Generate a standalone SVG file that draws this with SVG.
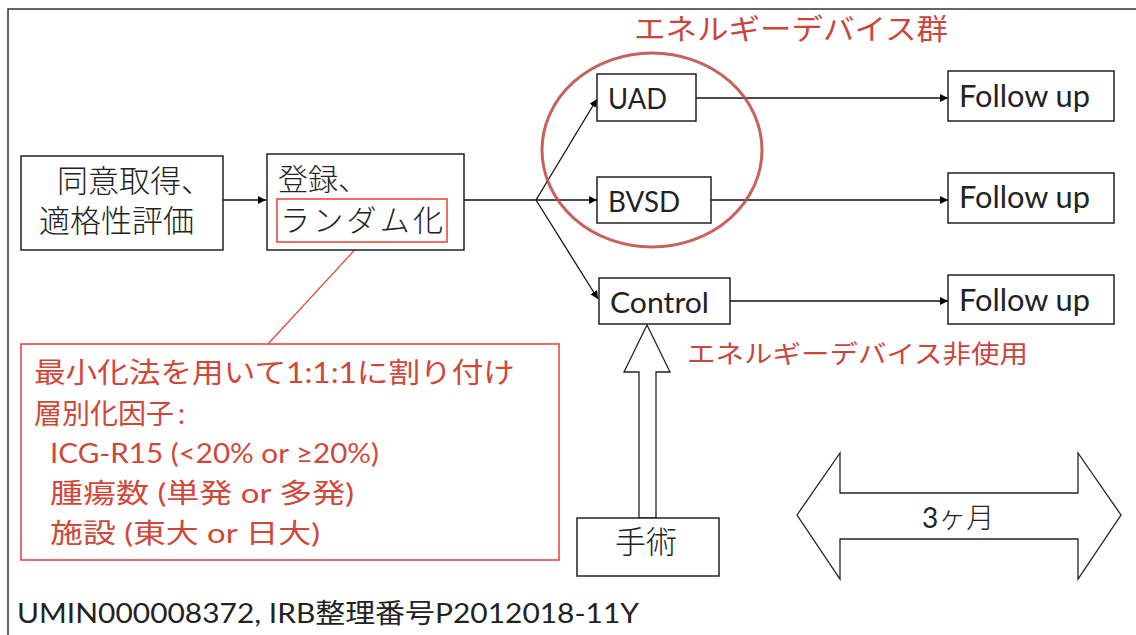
<svg xmlns="http://www.w3.org/2000/svg" width="1136" height="635" viewBox="0 0 1136 635">
<defs>
<marker id="ah" viewBox="0 0 10 10" refX="10" refY="5" markerWidth="8" markerHeight="8" markerUnits="userSpaceOnUse" orient="auto">
<path d="M0,0 L10,5 L0,10 z" fill="#000"/>
</marker>
</defs>
<style>
.box{fill:#fff;stroke:#222;stroke-width:1.5}
.conn{fill:none;stroke:#111;stroke-width:1.3}
.jm{font-family:"Noto Sans CJK JP",sans-serif;font-weight:300;fill:#222}
.lat{font-family:Lato,"Noto Sans CJK JP",sans-serif;fill:#222}
.red{font-family:Lato,"Noto Sans CJK JP",sans-serif;fill:#d0483a}
.redt{font-family:"Noto Sans CJK JP",sans-serif;fill:#c9463d}
</style>
<rect width="1136" height="635" fill="#fff"/>
<rect x="8" y="9" width="1200" height="700" fill="none" stroke="#333" stroke-width="1.5"/>

<g id="connectors">
<line class="conn" x1="223" y1="200" x2="266" y2="200" marker-end="url(#ah)"/>
<polyline class="conn" points="464,200 536,200"/>
<line class="conn" x1="536" y1="200" x2="597" y2="99" marker-end="url(#ah)"/>
<line class="conn" x1="536" y1="200" x2="597" y2="200" marker-end="url(#ah)"/>
<line class="conn" x1="536" y1="200" x2="598" y2="299" marker-end="url(#ah)"/>
<line class="conn" x1="696" y1="98" x2="948" y2="98" marker-end="url(#ah)"/>
<line class="conn" x1="711" y1="200" x2="948" y2="200" marker-end="url(#ah)"/>
<line class="conn" x1="730" y1="301" x2="948" y2="301" marker-end="url(#ah)"/>
<line x1="362" y1="242" x2="268" y2="344" stroke="#e8402f" stroke-width="1.2"/>
</g>

<g id="consent">
<rect class="box" x="21" y="156" width="202" height="94"/>
<text class="jm" x="57" y="192" font-size="31">同意取得、</text>
<text class="jm" x="39" y="232" font-size="31">適格性評価</text>
</g>

<g id="register">
<rect class="box" x="267" y="154" width="197" height="96"/>
<text class="jm" x="278" y="190" font-size="30">登録、</text>
<rect x="277" y="199" width="170" height="43" fill="none" stroke="#e8402f" stroke-width="1.5"/>
<text class="jm" x="280" y="231" font-size="30" textLength="163" lengthAdjust="spacing">ランダム化</text>
</g>

<g id="energy-group">
<text class="redt" x="634" y="40" font-size="29" textLength="314" lengthAdjust="spacingAndGlyphs">エネルギーデバイス群</text>
<ellipse cx="652" cy="150" rx="110" ry="97" fill="none" stroke="#c0504d" stroke-width="3" opacity="0.9"/>
</g>

<g id="uad">
<rect class="box" x="597" y="74" width="99" height="47"/>
<text class="lat" x="608" y="109" font-size="29" textLength="59" lengthAdjust="spacingAndGlyphs">UAD</text>
</g>
<g id="bvsd">
<rect class="box" x="597" y="177" width="114" height="46"/>
<text class="lat" x="608" y="212" font-size="29" textLength="72" lengthAdjust="spacingAndGlyphs">BVSD</text>
</g>
<g id="control">
<rect class="box" x="599" y="278" width="131" height="46"/>
<text class="lat" x="610" y="313" font-size="29" textLength="99" lengthAdjust="spacingAndGlyphs">Control</text>
</g>

<g id="followup1">
<rect class="box" x="948" y="71" width="166" height="50"/>
<text class="lat" x="959" y="107" font-size="30" textLength="131" lengthAdjust="spacingAndGlyphs">Follow up</text>
</g>
<g id="followup2">
<rect class="box" x="948" y="173" width="166" height="50"/>
<text class="lat" x="959" y="208" font-size="30" textLength="131" lengthAdjust="spacingAndGlyphs">Follow up</text>
</g>
<g id="followup3">
<rect class="box" x="948" y="275" width="166" height="49"/>
<text class="lat" x="959" y="311" font-size="30" textLength="131" lengthAdjust="spacingAndGlyphs">Follow up</text>
</g>

<g id="nonuse-label">
<text class="redt" x="687" y="363" font-size="25" textLength="341" lengthAdjust="spacingAndGlyphs">エネルギーデバイス非使用</text>
</g>

<g id="surgery">
<polygon points="647,325 670,372 656,372 656,518 639,518 639,372 624,372" fill="#fff" stroke="#222" stroke-width="1.3"/>
<rect class="box" x="577" y="518" width="142" height="58"/>
<text class="jm" x="615" y="553" font-size="31">手術</text>
</g>

<g id="period">
<polygon points="797,515 840,453 840,493 1078,493 1078,453 1121,515 1078,579 1078,539 840,539 840,579" fill="#fff" stroke="#222" stroke-width="1.3"/>
<text class="jm" x="922" y="528" font-size="28"><tspan class="lat" style="font-weight:400">3</tspan>ヶ月</text>
</g>

<g id="callout">
<rect x="21" y="344" width="538" height="216" fill="#fff" stroke="#e8402f" stroke-width="1.5"/>
<text class="red" x="34" y="383" font-size="28" textLength="481" lengthAdjust="spacingAndGlyphs">最小化法を用いて1:1:1に割り付け</text>
<text class="red" x="34" y="424" font-size="28">層別化因子<tspan dx="4">:</tspan></text>
<text class="red" x="50" y="463" font-size="27" textLength="329" lengthAdjust="spacingAndGlyphs">ICG-R15 (&lt;20% or ≥20%)</text>
<text class="red" x="50" y="503" font-size="27" textLength="304" lengthAdjust="spacingAndGlyphs">腫瘍数 (単発 or 多発)</text>
<text class="red" x="50" y="543" font-size="27" textLength="270" lengthAdjust="spacingAndGlyphs">施設 (東大 or 日大)</text>
</g>

<g id="footer">
<text class="lat" x="17" y="623" font-size="27" textLength="622" lengthAdjust="spacingAndGlyphs">UMIN000008372, IRB整理番号P2012018-11Y</text>
</g>
</svg>
